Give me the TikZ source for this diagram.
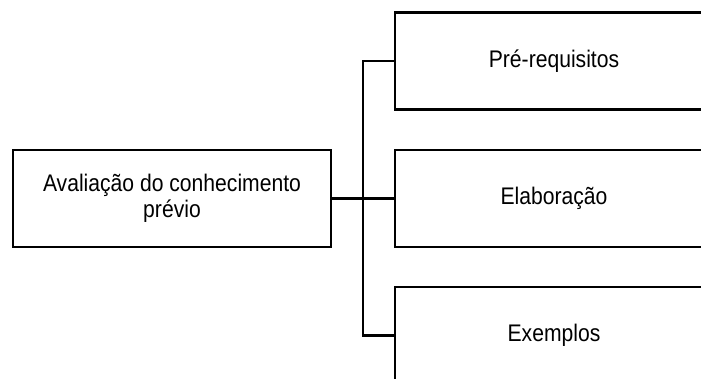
\documentclass[tikz,border=0pt]{standalone}
\usepackage{fontspec}
\setmainfont[FakeStretch=0.88]{Liberation Sans}
\begin{document}
\begin{tikzpicture}[x=1pt,y=-1pt,
  box/.style={draw=black, line width=2.2pt, minimum width=318pt, minimum height=97pt,
    inner sep=0pt, align=center, font=\fontsize{24}{26}\selectfont},
  link/.style={draw=black, line width=2.2pt}]
  \useasboundingbox (0,0) rectangle (701,378);
  \clip (0,0) rectangle (701,378);
  % source box and its three targets
  \node[box] (eval) at (172,198.5) {Avaliação do conhecimento\\prévio};
  \node[box] (pre)  at (554,61)    {Pré-requisitos};
  \node[box] (elab) at (554,198.5) {Elaboração};
  \node[box] (ex)   at (554,335.5) {Exemplos};
  % branching connector
  \coordinate (hub) at (363,198.5);
  \draw[link] (eval.east) -- (hub);
  \draw[link] (hub) -- (elab.west);
  \draw[link] (pre.west) -| (hub);
  \draw[link] (ex.west) -| (hub);
\end{tikzpicture}
\end{document}
